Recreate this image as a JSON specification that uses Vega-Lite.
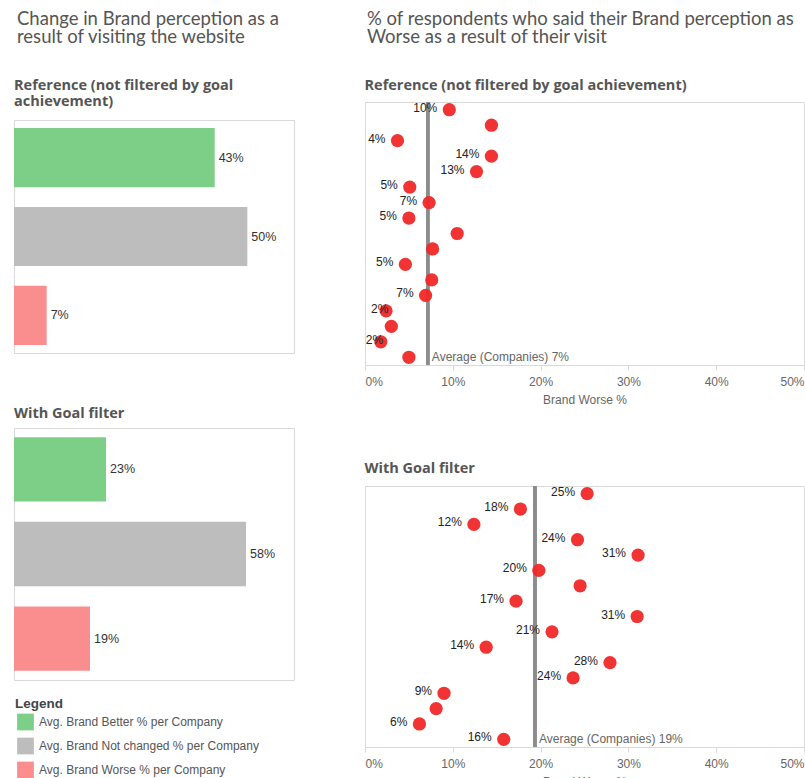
{
  "$schema": "https://vega.github.io/schema/vega-lite/v6.json",
  "padding": {"left": 13, "top": 9, "right": 0, "bottom": 0},
  "background": "white",
  "datasets": {
    "bars": [
      {"panel": "ref", "measure": "Avg. Brand Better % per Company", "value": 0.43},
      {"panel": "ref", "measure": "Avg. Brand Not changed % per Company", "value": 0.50},
      {"panel": "ref", "measure": "Avg. Brand Worse % per Company", "value": 0.07},
      {"panel": "goal", "measure": "Avg. Brand Better % per Company", "value": 0.23},
      {"panel": "goal", "measure": "Avg. Brand Not changed % per Company", "value": 0.58},
      {"panel": "goal", "measure": "Avg. Brand Worse % per Company", "value": 0.19}
    ],
    "worse": [
      {"panel": "ref", "company": "C01", "worse": 0.096, "labeled": true},
      {"panel": "ref", "company": "C02", "worse": 0.144, "labeled": false},
      {"panel": "ref", "company": "C03", "worse": 0.037, "labeled": true},
      {"panel": "ref", "company": "C04", "worse": 0.144, "labeled": true},
      {"panel": "ref", "company": "C05", "worse": 0.127, "labeled": true},
      {"panel": "ref", "company": "C06", "worse": 0.051, "labeled": true},
      {"panel": "ref", "company": "C07", "worse": 0.073, "labeled": true},
      {"panel": "ref", "company": "C08", "worse": 0.050, "labeled": true},
      {"panel": "ref", "company": "C09", "worse": 0.105, "labeled": false},
      {"panel": "ref", "company": "C10", "worse": 0.077, "labeled": false},
      {"panel": "ref", "company": "C11", "worse": 0.046, "labeled": true},
      {"panel": "ref", "company": "C12", "worse": 0.076, "labeled": false},
      {"panel": "ref", "company": "C13", "worse": 0.069, "labeled": true},
      {"panel": "ref", "company": "C14", "worse": 0.024, "labeled": true},
      {"panel": "ref", "company": "C15", "worse": 0.030, "labeled": false},
      {"panel": "ref", "company": "C16", "worse": 0.018, "labeled": true},
      {"panel": "ref", "company": "C17", "worse": 0.050, "labeled": false},
      {"panel": "goal", "company": "C01", "worse": 0.253, "labeled": true},
      {"panel": "goal", "company": "C02", "worse": 0.177, "labeled": true},
      {"panel": "goal", "company": "C03", "worse": 0.124, "labeled": true},
      {"panel": "goal", "company": "C04", "worse": 0.242, "labeled": true},
      {"panel": "goal", "company": "C05", "worse": 0.311, "labeled": true},
      {"panel": "goal", "company": "C06", "worse": 0.198, "labeled": true},
      {"panel": "goal", "company": "C07", "worse": 0.245, "labeled": false},
      {"panel": "goal", "company": "C08", "worse": 0.172, "labeled": true},
      {"panel": "goal", "company": "C09", "worse": 0.310, "labeled": true},
      {"panel": "goal", "company": "C10", "worse": 0.213, "labeled": true},
      {"panel": "goal", "company": "C11", "worse": 0.138, "labeled": true},
      {"panel": "goal", "company": "C12", "worse": 0.279, "labeled": true},
      {"panel": "goal", "company": "C13", "worse": 0.237, "labeled": true},
      {"panel": "goal", "company": "C14", "worse": 0.090, "labeled": true},
      {"panel": "goal", "company": "C15", "worse": 0.081, "labeled": false},
      {"panel": "goal", "company": "C16", "worse": 0.062, "labeled": true},
      {"panel": "goal", "company": "C17", "worse": 0.158, "labeled": true}
    ]
  },
  "hconcat": [
    {
      "spacing": 51,
      "resolve": {"scale": {"color": "independent"}, "legend": {"color": "independent"}},
      "vconcat": [
        {
          "spacing": 19,
          "vconcat": [
            {
              "title": {
                "text": ["Change in Brand perception as a", "result of visiting the website"],
                "font": "Lato", "fontSize": 18.5, "fontWeight": "normal", "lineHeight": 18.5, "offset": 0, "dx": 3
              },
              "width": 280,
              "height": 1,
              "view": {"stroke": null},
              "data": {"values": [{"t": ""}]},
              "mark": {"type": "text"},
              "encoding": {"text": {"field": "t", "type": "nominal"}}
            },
            {
              "title": {"text": ["Reference (not filtered by goal", "achievement)"], "fontSize": 14.5, "fontWeight": "bold", "lineHeight": 16, "offset": 10.5},
              "width": 280,
              "height": 233,
              "data": {"name": "bars"},
              "transform": [{"filter": "datum.panel === 'ref'"}],
              "encoding": {
                "y": {"field": "measure", "type": "nominal", "sort": null, "axis": null,
                      "scale": {"paddingInner": 0.25, "paddingOuter": 0.1}},
                "x": {"field": "value", "type": "quantitative", "axis": null,
                      "scale": {"domain": [0, 0.6], "nice": false}}
              },
              "layer": [
                {
                  "mark": "bar",
                  "encoding": {
                    "color": {
                      "field": "measure", "type": "nominal",
                      "scale": {
                        "domain": ["Avg. Brand Better % per Company", "Avg. Brand Not changed % per Company", "Avg. Brand Worse % per Company"],
                        "range": ["#7dce86", "#bdbdbd", "#fa8d8e"]
                      },
                      "legend": null
                    }
                  }
                },
                {
                  "mark": {"type": "text", "align": "left", "baseline": "middle", "dx": 4, "fontSize": 12.5, "color": "#333"},
                  "encoding": {"text": {"field": "value", "type": "quantitative", "format": ".0%"}}
                }
              ]
            }
          ]
        },
        {
          "title": {"text": "With Goal filter", "fontSize": 14.5, "fontWeight": "bold", "offset": 7},
          "width": 280,
          "height": 252,
          "data": {"name": "bars"},
          "transform": [{"filter": "datum.panel === 'goal'"}],
          "encoding": {
            "y": {"field": "measure", "type": "nominal", "sort": null, "axis": null,
                  "scale": {"paddingInner": 0.24, "paddingOuter": 0.11}},
            "x": {"field": "value", "type": "quantitative", "axis": null,
                  "scale": {"domain": [0, 0.7], "nice": false}}
          },
          "layer": [
            {
              "mark": "bar",
              "encoding": {
                "color": {
                  "field": "measure", "type": "nominal",
                  "scale": {
                    "domain": ["Avg. Brand Better % per Company", "Avg. Brand Not changed % per Company", "Avg. Brand Worse % per Company"],
                    "range": ["#7dce86", "#bdbdbd", "#fa8d8e"]
                  },
                  "legend": {
                    "title": "Legend", "orient": "bottom", "direction": "vertical",
                    "symbolType": "square", "symbolSize": 280, "symbolStrokeWidth": 0, "symbolOpacity": 1, "symbolOffset": 2,
                    "labelFontSize": 12, "labelColor": "#555", "labelFont": "Liberation Sans", "labelOffset": 5, "labelLimit": 400,
                    "titleFontSize": 13.5, "titleColor": "#444", "titleFont": "Liberation Sans", "titleFontWeight": "bold",
                    "rowPadding": 7, "offset": 16, "padding": 1, "titlePadding": 3
                  }
                }
              }
            },
            {
              "mark": {"type": "text", "align": "left", "baseline": "middle", "dx": 4, "fontSize": 12.5, "color": "#333"},
              "encoding": {"text": {"field": "value", "type": "quantitative", "format": ".0%"}}
            }
          ]
        }
      ]
    },
    {
      "spacing": 54,
      "vconcat": [
        {
          "spacing": 19,
          "vconcat": [
            {
              "title": {
                "text": ["% of respondents who said their Brand perception as", "Worse as a result of their visit"],
                "font": "Lato", "fontSize": 18.5, "fontWeight": "normal", "lineHeight": 18.5, "offset": 0, "dx": 2
              },
              "width": 439,
              "height": 1,
              "view": {"stroke": null},
              "data": {"values": [{"t": ""}]},
              "mark": {"type": "text"},
              "encoding": {"text": {"field": "t", "type": "nominal"}}
            },
            {
              "title": {"text": "Reference (not filtered  by goal achievement)", "fontSize": 14.5, "fontWeight": "bold", "offset": 7},
              "width": 439,
              "height": 263,
              "data": {"name": "worse"},
              "transform": [
                {"filter": "datum.panel === 'ref'"},
                {"joinaggregate": [{"op": "mean", "field": "worse", "as": "avg"}]}
              ],
              "encoding": {
                "y": {"field": "company", "type": "nominal", "sort": "ascending", "axis": null, "scale": {"type": "point", "padding": 0.5}}
              },
              "layer": [
                {
                  "mark": {"type": "rule", "color": "#8c8c8c", "strokeWidth": 2.5},
                  "encoding": {
                    "x": {"field": "avg", "type": "quantitative", "title": "Brand Worse %",
                          "scale": {"domain": [0, 0.5], "nice": false},
                          "axis": {"values": [0, 0.1, 0.2, 0.3, 0.4, 0.5], "format": ".0%", "grid": false, "labelFlush": true,
                                   "domainColor": "#d9d9d9", "tickColor": "#d9d9d9", "tickSize": 5,
                                   "labelColor": "#666", "labelFontSize": 12, "labelPadding": 6,
                                   "titleColor": "#666", "titleFontSize": 12, "titleFontWeight": "normal", "titlePadding": 7}},
                    "y": null
                  }
                },
                {
                  "transform": [{"filter": "datum.company === 'C17'"}],
                  "mark": {"type": "text", "align": "left", "baseline": "middle", "dx": 4, "fontSize": 12, "color": "#666"},
                  "encoding": {
                    "x": {"field": "avg", "type": "quantitative", "title": "Brand Worse %"},
                    "text": {"value": "Average (Companies) 7%"}
                  }
                },
                {
                  "mark": {"type": "circle", "size": 175, "color": "#f02828", "opacity": 0.95},
                  "encoding": {"x": {"field": "worse", "type": "quantitative", "title": "Brand Worse %"}}
                },
                {
                  "transform": [{"filter": "datum.labeled && datum.worse >= 0.025"}],
                  "mark": {"type": "text", "align": "right", "baseline": "middle", "dx": -12, "dy": -2, "fontSize": 12, "color": "#222"},
                  "encoding": {
                    "x": {"field": "worse", "type": "quantitative", "title": "Brand Worse %"},
                    "text": {"field": "worse", "type": "quantitative", "format": ".0%"}
                  }
                },
                {
                  "transform": [{"filter": "datum.labeled && datum.worse < 0.025"}],
                  "mark": {"type": "text", "align": "left", "baseline": "middle", "dx": -15, "dy": -2, "fontSize": 12, "color": "#222"},
                  "encoding": {
                    "x": {"field": "worse", "type": "quantitative", "title": "Brand Worse %"},
                    "text": {"field": "worse", "type": "quantitative", "format": ".0%"}
                  }
                }
              ]
            }
          ]
        },
        {
          "title": {"text": "With Goal filter", "fontSize": 14.5, "fontWeight": "bold", "offset": 8},
          "width": 439,
          "height": 261,
          "data": {"name": "worse"},
          "transform": [
            {"filter": "datum.panel === 'goal'"},
            {"joinaggregate": [{"op": "mean", "field": "worse", "as": "avg"}]}
          ],
          "encoding": {
            "y": {"field": "company", "type": "nominal", "sort": "ascending", "axis": null, "scale": {"type": "point", "padding": 0.5}}
          },
          "layer": [
            {
              "mark": {"type": "rule", "color": "#8c8c8c", "strokeWidth": 2.5},
              "encoding": {
                "x": {"field": "avg", "type": "quantitative", "title": "Brand Worse %",
                      "scale": {"domain": [0, 0.5], "nice": false},
                      "axis": {"values": [0, 0.1, 0.2, 0.3, 0.4, 0.5], "format": ".0%", "grid": false, "labelFlush": true,
                               "domainColor": "#d9d9d9", "tickColor": "#d9d9d9", "tickSize": 5,
                               "labelColor": "#666", "labelFontSize": 12, "labelPadding": 6,
                               "titleColor": "#666", "titleFontSize": 12, "titleFontWeight": "normal", "titlePadding": 7}},
                "y": null
              }
            },
            {
              "transform": [{"filter": "datum.company === 'C17'"}],
              "mark": {"type": "text", "align": "left", "baseline": "middle", "dx": 4, "fontSize": 12, "color": "#666"},
              "encoding": {
                "x": {"field": "avg", "type": "quantitative", "title": "Brand Worse %"},
                "text": {"value": "Average (Companies) 19%"}
              }
            },
            {
              "mark": {"type": "circle", "size": 175, "color": "#f02828", "opacity": 0.95},
              "encoding": {"x": {"field": "worse", "type": "quantitative", "title": "Brand Worse %"}}
            },
            {
              "transform": [{"filter": "datum.labeled"}],
              "mark": {"type": "text", "align": "right", "baseline": "middle", "dx": -12, "dy": -2, "fontSize": 12, "color": "#222"},
              "encoding": {
                "x": {"field": "worse", "type": "quantitative", "title": "Brand Worse %"},
                "text": {"field": "worse", "type": "quantitative", "format": ".0%"}
              }
            }
          ]
        }
      ]
    }
  ],
  "spacing": 69,
  "resolve": {"scale": {"color": "independent"}, "legend": {"color": "independent"}},
  "config": {
    "font": "Liberation Sans",
    "view": {"stroke": "#d9d9d9", "strokeWidth": 1},
    "title": {"font": "Open Sans", "color": "#555", "anchor": "start"}
  }
}
